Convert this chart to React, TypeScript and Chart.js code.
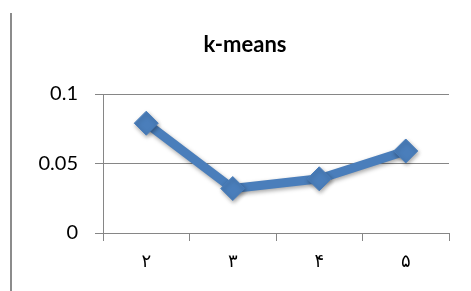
import React, { useEffect, useRef } from "react";
import { Chart, registerables } from "chart.js";

Chart.register(...registerables);

const categories = ["۲", "۳", "۴", "۵"];
const values = [0.079, 0.032, 0.039, 0.059];
const yTicks = [0, 0.05, 0.1];
const titleText = "k-means";

const shadowPlugin = {
  id: "lineShadow",
  beforeDatasetsDraw(chart: any) {
    const ctx = chart.ctx;
    ctx.save();
    ctx.shadowColor = "rgba(0,0,0,0.35)";
    ctx.shadowBlur = 4;
    ctx.shadowOffsetX = 1;
    ctx.shadowOffsetY = 2;
  },
  afterDatasetsDraw(chart: any) {
    chart.ctx.restore();
  },
};

const titlePlugin = {
  id: "customTitle",
  afterDraw(chart: any) {
    const ctx = chart.ctx;
    ctx.save();
    ctx.font = "bold 22px Lato, 'Liberation Sans', sans-serif";
    ctx.fillStyle = "#000";
    ctx.textAlign = "center";
    ctx.textBaseline = "middle";
    const a = chart.chartArea;
    ctx.fillText(titleText, (a.left + a.right) / 2 - 31, a.top - 49);
    ctx.restore();
  },
};

export default function App() {
  const ref = useRef<HTMLCanvasElement>(null);
  useEffect(() => {
    if (!ref.current) return;
    const chart = new Chart(ref.current, {
      type: "line",
      data: {
        labels: categories,
        datasets: [
          {
            data: values,
            borderColor: "#4A7EBB",
            backgroundColor: "#4A7EBB",
            borderWidth: 9,
            pointStyle: "rectRot",
            pointRadius: 12,
            pointBorderWidth: 1,
            pointBackgroundColor: "#4A7EBB",
            pointBorderColor: "#4A7EBB",
            tension: 0,
          },
        ],
      },
      options: {
        animation: false,
        responsive: false,
        maintainAspectRatio: false,
        layout: { padding: { left: 0, top: 94, right: 22, bottom: 0 } },
        plugins: { legend: { display: false }, tooltip: { enabled: false }, title: { display: false } },
        scales: {
          x: {
            offset: true,
            grid: {
              offset: true,
              drawOnChartArea: false,
              drawTicks: true,
              tickLength: 8,
              color: "#868686",
              lineWidth: 1,
            },
            border: { display: true, color: "#868686", width: 1 },
            ticks: {
              color: "#000",
              padding: 11,
              font: { family: "'DejaVu Sans'", size: 18 },
            },
            afterFit(scale: any) {
              scale.height = 58;
            },
          },
          y: {
            min: 0,
            max: 0.1,
            afterBuildTicks(scale: any) {
              scale.ticks = yTicks.map((v) => ({ value: v }));
            },
            grid: {
              color: "#868686",
              lineWidth: 1,
              drawTicks: true,
              tickLength: 8,
            },
            border: { display: true, color: "#868686", width: 1 },
            ticks: {
              color: "#000",
              padding: 17,
              font: { family: "Lato, 'Liberation Sans', sans-serif", size: 20 },
              callback: (v: any) => String(v),
            },
            afterFit(scale: any) {
              scale.width = 103;
            },
          },
        },
      },
      plugins: [shadowPlugin, titlePlugin],
    });
    return () => chart.destroy();
  }, []);

  return (
    <div style={{ position: "absolute", left: 0, top: 0, width: 471, height: 291, background: "#fff", overflow: "hidden" }}>
      <div style={{ position: "absolute", left: 10, top: 13, width: 2, height: 278, background: "#8c8c8c" }} />
      <canvas ref={ref} width={471} height={291} style={{ position: "absolute", left: 0, top: 0, width: 471, height: 291 }} />
    </div>
  );
}
